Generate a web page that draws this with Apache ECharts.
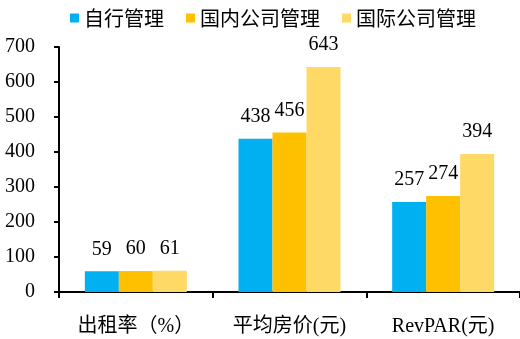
<!DOCTYPE html>
<html>
<head>
<meta charset="utf-8">
<script src="https://cdn.jsdelivr.net/npm/echarts@6/dist/echarts.min.js"></script>
<style>
html,body{margin:0;padding:0;background:#fff;}
#chart{width:520px;height:339px;}
</style>
</head>
<body>
<div id="chart"></div>
<script>
const categories = ['出租率（%）', '平均房价(元)', 'RevPAR(元)'];
const seriesNames = ['自行管理', '国内公司管理', '国际公司管理'];
const selfManaged = [59, 438, 257];
const domesticManaged = [60, 456, 274];
const intlManaged = [61, 643, 394];
const yTicks = [0, 100, 200, 300, 400, 500, 600, 700];

const colors = ['#00B0F0', '#FFC000', '#FFD966'];
const FONT = '"Liberation Serif", "Noto Sans CJK SC", serif';

const chart = echarts.init(document.getElementById('chart'), null, {renderer: 'canvas'});

function makeSeries(name, data, color) {
  return {
    name: name,
    type: 'bar',
    data: data,
    barWidth: 34,
    barGap: '0%',
    itemStyle: {color: color},
    label: {
      show: true,
      position: 'top',
      distance: 12,
      color: '#000',
      fontFamily: FONT,
      fontSize: 20
    }
  };
}

chart.setOption({
  animation: false,
  color: colors,
  legend: {
    left: 65,
    top: 3,
    itemWidth: 9,
    itemHeight: 9,
    itemGap: 22,
    icon: 'rect',
    textStyle: {fontFamily: '"Noto Sans CJK SC", sans-serif', fontSize: 20, color: '#000', padding: [0, 0, 0, 0]},
    data: seriesNames
  },
  grid: {left: 59, top: 47, width: 462, bottom: 47, containLabel: false},
  xAxis: {
    type: 'category',
    data: categories,
    axisLine: {lineStyle: {color: '#000', width: 2}},
    axisTick: {show: true, length: 6, lineStyle: {color: '#000', width: 2}},
    axisLabel: {margin: 25, color: '#000', fontFamily: FONT, fontSize: 20}
  },
  yAxis: {
    type: 'value',
    min: yTicks[0],
    max: yTicks[yTicks.length - 1],
    interval: yTicks[1] - yTicks[0],
    splitLine: {show: false},
    axisLine: {show: true, lineStyle: {color: '#000', width: 2}},
    axisTick: {show: true, length: 5, lineStyle: {color: '#000', width: 2}},
    axisLabel: {margin: 24, color: '#000', fontFamily: FONT, fontSize: 20}
  },
  series: [
    makeSeries(seriesNames[0], selfManaged, colors[0]),
    makeSeries(seriesNames[1], domesticManaged, colors[1]),
    makeSeries(seriesNames[2], intlManaged, colors[2])
  ]
});
</script>
</body>
</html>
